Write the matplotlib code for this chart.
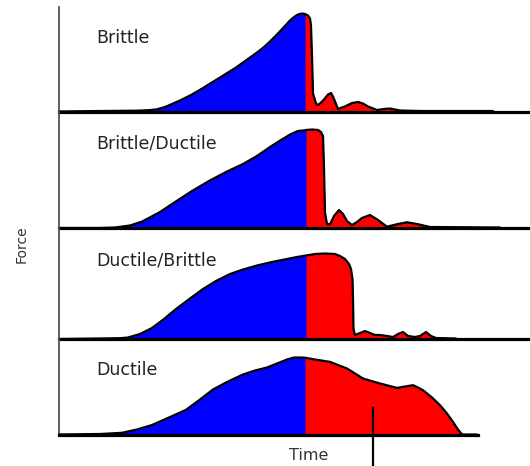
import matplotlib
matplotlib.use("Agg")
import matplotlib.pyplot as plt
import numpy as np

# ---- data (time in arbitrary units, force in arbitrary units) ----
labels = ["Brittle", "Brittle/Ductile", "Ductile/Brittle", "Ductile"]

t_brittle = [59,100,135,142,150,157,165,172,180,192,203,220,236,250,257,264,270,277,284,290,294,298,302,305,308,310,311,312,313,316,318,321,324,328,331,333,335,338,342,345,352,358,363,368,377,384,390,400,420,493]
f_brittle = [0,0.5,0.8,1,1.4,2.2,4.5,7.5,11,17,23.5,34,44,54,59,64.5,70,77,84.5,91,94.5,97,98,97.5,96,93,86,55,18,8,6.5,9,12,17,18.5,15,10,2.5,4,5,8.5,9.5,8,5,1.5,2.5,3,1,0.5,0.5]

t_brit_duct = [59,100,115,130,142,160,176,192,209,226,243,257,270,281,291,298,304,306,312,318,321,323,324,325,327,330,334,339,343,347,352,357,362,370,378,387,398,407,417,430,500]
f_brit_duct = [0,0,0.5,2.5,6.4,16,26.6,37,47,56,64,72,81,88,94,97,97.6,98,98.5,98,96,92,60,15,4,3.7,12,18,14,7,3,6,10,13,8,1.3,4,5.7,4,1,0.5]

t_duct_brit = [59,100,120,128,140,152,164,176,190,203,216,230,243,257,272,287,297,306,315,325,335,340,345,349,351,352.5,353,353.5,355,360,365,370,375,380,387,393,398,403,408,415,420,426,431,436,456]
f_duct_brit = [0,0.5,0.8,1.5,5,11,20,30,40.5,50,58,65,69.5,73.5,77,80,82,83.5,85,85.5,85,83,80,75,70,60,40,10,4,6,8,6,4,4,3,2,5,7,3,2,3,7,3,1,0.5]

t_ductile = [59,100,122,137,152,169,186,200,213,228,243,255,267,277,287,294,300,305,315,330,347,363,380,397,405,413,418,423,432,440,447,453,458,462,477]
f_ductile = [0,0.5,1.7,5,9.5,17,24.7,35,45,53,60,64,67,71,75,77,77,76.8,75,72.6,66,56,51,46.6,48,49.3,47,44.3,37,29.3,21,12.6,5,0,0]

splits = [305, 306, 306, 305]          # time at maximum force (crack initiation)
series = [(t_brittle, f_brittle), (t_brit_duct, f_brit_duct),
          (t_duct_brit, f_duct_brit), (t_ductile, f_ductile)]
pointer_time = 373

# ---- layout ----
W, H = 530, 466
fig = plt.figure(figsize=(W / 100, H / 100), dpi=100)
fig.patch.set_facecolor("white")

left_px = 59
panel_px = [(7, 111.5), (111.5, 228), (228, 339), (339, 434.5)]  # (top, bottom) in px
label_y_px = [38, 144, 260.5, 370]

axes = []
for i, ((top, bot), (t, f)) in enumerate(zip(panel_px, series)):
    ax = fig.add_axes([left_px / W, (H - bot) / H, (W - left_px) / W, (bot - top) / H])
    t = np.asarray(t, float)
    f = np.asarray(f, float)
    s = splits[i]
    # blue under whole curve, red drawn on top after the split (no seam)
    ax.fill_between(t, 0, f, color="#0000ff", linewidth=0, zorder=1)
    ax.fill_between(t, 0, f, where=t >= s, color="#ff0000", linewidth=0, zorder=2)
    ax.plot(t, f, color="black", lw=1.6, solid_joinstyle="round",
            solid_capstyle="round", zorder=3, clip_on=False)
    ax.set_xlim(59, 530)
    ax.set_ylim(0, bot - top)
    ax.set_xticks([])
    ax.set_yticks([])
    ax.patch.set_alpha(0)
    for sp in ("top", "right"):
        ax.spines[sp].set_visible(False)
    ax.spines["bottom"].set_color("black")
    ax.spines["bottom"].set_linewidth(2.3)
    ax.spines["bottom"].set_zorder(4)
    ax.spines["left"].set_color("#555555")
    ax.spines["left"].set_linewidth(1.3)
    if i == 3:
        ax.spines["bottom"].set_bounds(59, 478)
    fig.text(96 / W, 1 - label_y_px[i] / H, labels[i], fontsize=12.5,
             color="#222222", va="center", ha="left")
    axes.append(ax)

# pointer into the red (post-peak) area of the ductile panel
ax4 = axes[3]
ax4.plot([pointer_time, pointer_time], [434.5 - 408, 434.5 - 470],
         color="black", lw=1.6, clip_on=False, zorder=5)

fig.text(309 / W, 1 - 456 / H, "Time", fontsize=11.5, color="#333333",
         ha="center", va="center")
fig.text(22 / W, 1 - 244 / H, "Force", fontsize=10, color="#333333",
         ha="center", va="center", rotation=90)

fig.savefig("out.png", dpi=100, facecolor="white")
